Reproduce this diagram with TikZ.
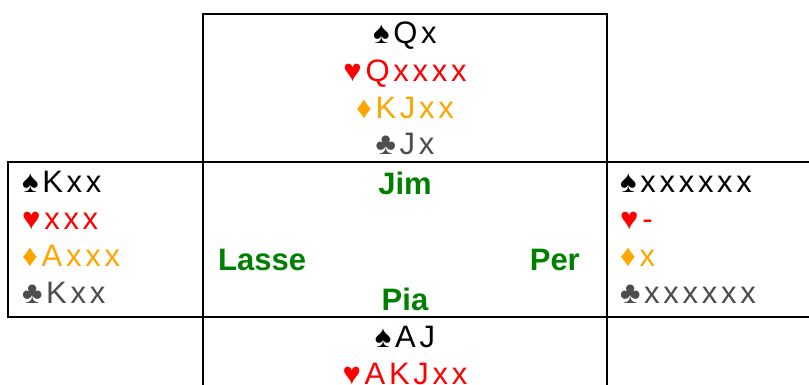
\documentclass[tikz,border=0pt]{standalone}
\usepackage{fontspec}
\setmainfont{Liberation Sans}
\newfontfamily\handfont[LetterSpace=12]{Liberation Sans}
\usepackage{xcolor}
\usetikzlibrary{positioning}
\definecolor{heartred}{RGB}{255,0,0}
\definecolor{diamondorange}{RGB}{255,165,0}
\definecolor{clubgray}{RGB}{77,77,77}
\definecolor{namegreen}{RGB}{0,128,0}
\tikzset{
    card/.style={inner sep=0pt, font=\handfont\fontsize{31}{37}\selectfont},
    player/.style={inner sep=0pt, text=namegreen, font=\bfseries\fontsize{31}{36}\selectfont},
    table line/.style={line width=2pt}
}

\begin{document}
\begin{tikzpicture}[x=1pt,y=1pt]
    \useasboundingbox (0,0) rectangle (809,-385);
    % table lines
    \draw[table line] (203,-385) -- (203,-14) -- (607,-14) -- (607,-385);
    \draw[table line] (809,-162) -- (8,-162) -- (8,-316.5) -- (809,-316.5);
    % north
    \node[card, anchor=base] (n1) at (405,-44) {♠Qx};
    \node[card, anchor=base, text=heartred] (n2) at (405,-81.5) {♥Qxxxx};
    \node[card, anchor=base, text=diamondorange] (n3) at (405,-118.5) {♦KJxx};
    \node[card, anchor=base, text=clubgray] (n4) at (405,-155) {♣Jx};
    % west
    \node[card, anchor=base west] (w1) at (22,-192.7) {♠Kxx};
    \node[card, anchor=base west, text=heartred] (w2) at (22,-229.7) {♥xxx};
    \node[card, anchor=base west, text=diamondorange] (w3) at (22,-266.7) {♦Axxx};
    \node[card, anchor=base west, text=clubgray] (w4) at (22,-303) {♣Kxx};
    % east
    \node[card, anchor=base west] (e1) at (620,-192.7) {♠xxxxxx};
    \node[card, anchor=base west, text=heartred] (e2) at (620,-229.7) {♥-};
    \node[card, anchor=base west, text=diamondorange] (e3) at (620,-266.7) {♦x};
    \node[card, anchor=base west, text=clubgray] (e4) at (620,-303) {♣xxxxxx};
    % south
    \node[card, anchor=base] (s1) at (405,-347.7) {♠AJ};
    \node[card, anchor=base, text=heartred] (s2) at (405,-384.7) {♥AKJxx};
    % players
    \node[player, anchor=base] (jim) at (405,-195) {Jim};
    \node[player, anchor=base west] (lasse) at (218,-270.7) {Lasse};
    \node[player, anchor=base east] (per) at (580,-270.7) {Per};
    \node[player, anchor=base] (pia) at (405,-310.7) {Pia};
\end{tikzpicture}
\end{document}
